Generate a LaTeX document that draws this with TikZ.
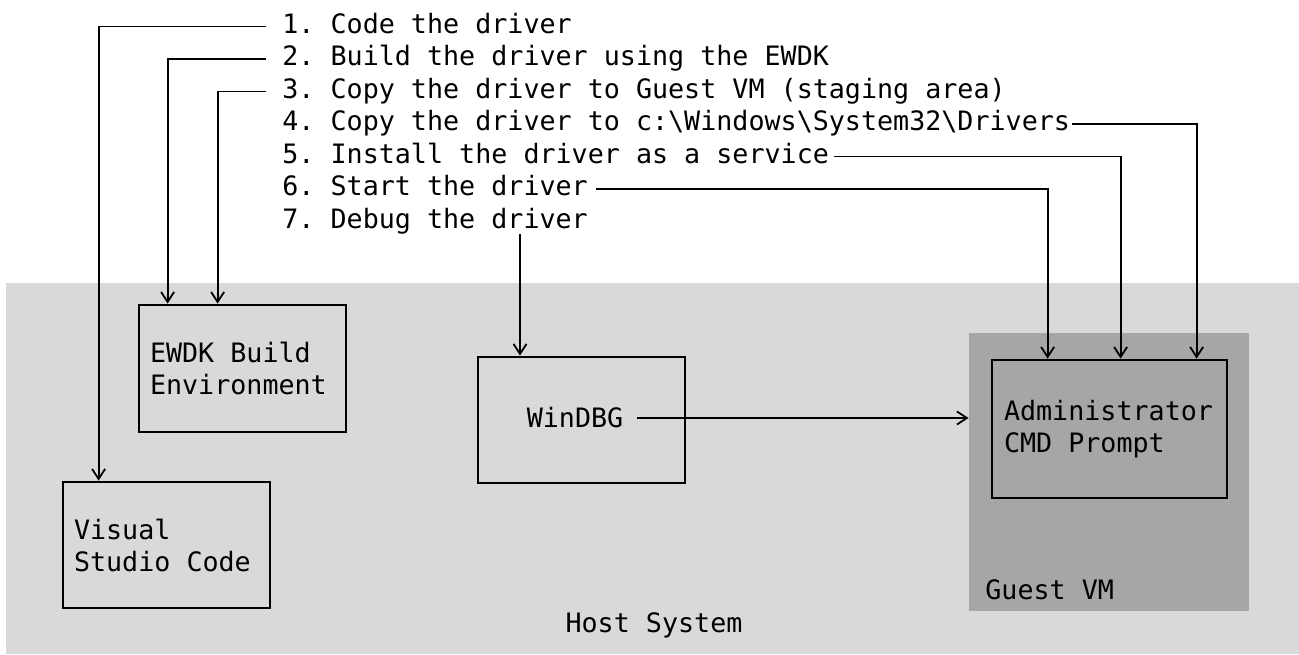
\documentclass[tikz,border=0pt]{standalone}
\usepackage{fontspec}
\usetikzlibrary{arrows.meta}
\newfontfamily\diagfont[WordSpace={1,0,0},PunctuationSpace=WordSpace]{DejaVu Sans Mono}
\definecolor{hostgrey}{RGB}{217,217,217}
\definecolor{guestgrey}{RGB}{166,166,166}
\frenchspacing
\begin{document}
\begin{tikzpicture}[x=0.5pt,y=0.5pt,
  region/.style={fill=#1,draw=none},
  box/.style={draw=black,line width=1.4pt,inner xsep=5.5pt,align=flush left,text width=#1},
  steptext/.style={anchor=base west,text height=9.5pt,text depth=3pt},
  conn/.style={line width=0.9pt,-{Straight Barb[length=5pt,width=6.5pt,line width=0.9pt]}}]
\tikzstyle{every node}+=[inner sep=0pt,font=\diagfont\fontsize{13.35pt}{16pt}\selectfont]
\useasboundingbox (0,0) rectangle (1299,-654);
\node [region=hostgrey,minimum width=646.5pt,minimum height=185.5pt] (host) at (652.5,-468.5) {};
\node [region=guestgrey,minimum width=140pt,minimum height=139pt] (guest) at (1109,-472) {};
\node (hostlabel) at (654,-625) {Host System};
\node [anchor=west] (guestlabel) at (985,-590) {Guest VM};
\node [box=92.5pt,minimum height=63.5pt] (ewdk) at (242.5,-368.5) {EWDK Build\\Environment};
\node [box=92.5pt,minimum height=63pt] (vsc) at (166.5,-545) {Visual\\Studio Code};
\node [box=92.5pt,minimum height=63pt] (dbg) at (581.5,-420) {};
\node (dbgtext) at (575,-418) {WinDBG};
\node [box=105.5pt,inner xsep=6pt,minimum height=69pt] (adm) at (1109.5,-429) {Administrator\\CMD Prompt};
\node [steptext] (l1) at (282,-33) {1. Code the driver};
\node [steptext] (l2) at (282,-65.5) {2. Build the driver using the EWDK};
\node [steptext] (l3) at (282,-98) {3. Copy the driver to Guest VM (staging area)};
\node [steptext] (l4) at (282,-130.5) {4. Copy the driver to c:\textbackslash Windows\textbackslash System32\textbackslash Drivers};
\node [steptext] (l5) at (282,-163) {5. Install the driver as a service};
\node [steptext] (l6) at (282,-195.5) {6. Start the driver};
\node [steptext] (l7) at (282,-228) {7. Debug the driver};
\draw [conn] ([xshift=-8pt]l1.west) -| ([xshift=18.5pt]vsc.north west);
\draw [conn] ([xshift=-8pt]l2.west) -| ([xshift=15pt]ewdk.north west);
\draw [conn] ([xshift=-8pt]l3.west) -| ([xshift=40pt]ewdk.north west);
\draw [conn] ([xshift=1pt]l4.east) -| ([xshift=103pt]adm.north west);
\draw [conn] ([xshift=2.5pt]l5.east) -| ([xshift=65pt]adm.north west);
\draw [conn] ([xshift=4pt]l6.east) -| ([xshift=28.5pt]adm.north west);
\draw [conn] ([xshift=119pt]l7.south west) -- ([xshift=119pt]l7.south west |- dbg.north);
\draw [conn] ([xshift=6.5pt]dbgtext.east) -- (dbgtext.east -| guest.west);
\end{tikzpicture}
\end{document}
